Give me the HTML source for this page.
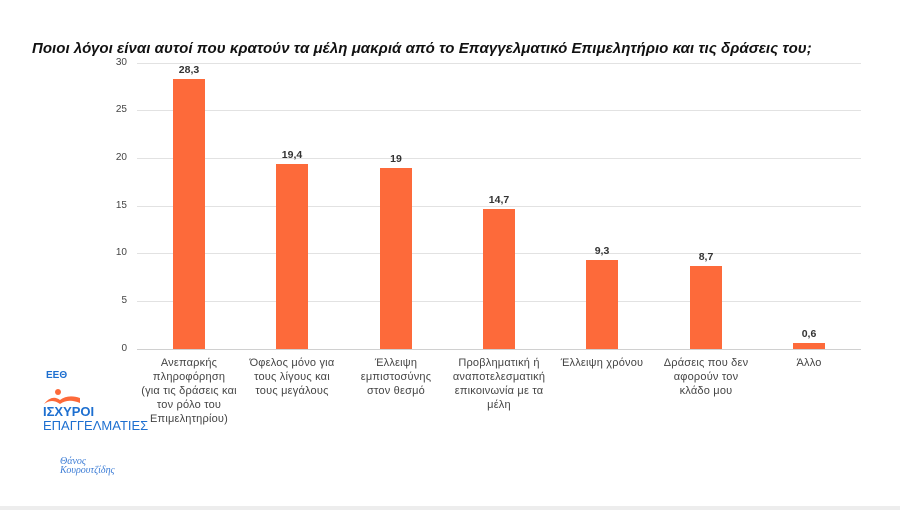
<!DOCTYPE html>
<html><head><meta charset="utf-8"><style>
body{margin:0;width:900px;height:510px;background:#fff;position:relative;overflow:hidden;font-family:"Liberation Sans","DejaVu Sans",sans-serif}
.a{position:absolute}
.g{position:absolute;left:137px;width:724px;height:1px;background:#e2e2e2}
.yl{position:absolute;width:20px;text-align:right;left:107px;font-size:10px;color:#444}
.bar{position:absolute;width:32px;background:#fd6a3a}
.v{position:absolute;width:60px;text-align:center;font-size:10.5px;font-weight:bold;color:#333}
.xl{position:absolute;width:130px;text-align:center;font-size:11px;line-height:14px;color:#444;top:356px;white-space:nowrap;letter-spacing:0.2px}
</style></head><body>
<div class="a" style="left:32px;top:40px;font-size:15px;font-weight:bold;font-style:italic;color:#111;white-space:nowrap;letter-spacing:0.05px">Ποιοι λόγοι είναι αυτοί που κρατούν τα μέλη μακριά από το Επαγγελματικό Επιμελητήριο και τις δράσεις του;</div>
<div class="g" style="top:63px"></div><div class="g" style="top:110px"></div><div class="g" style="top:158px"></div><div class="g" style="top:206px"></div><div class="g" style="top:253px"></div><div class="g" style="top:301px"></div><div class="g" style="top:349px;background:#d0d0d0"></div>
<div class="yl" style="top:57px">30</div><div class="yl" style="top:104px">25</div><div class="yl" style="top:152px">20</div><div class="yl" style="top:200px">15</div><div class="yl" style="top:247px">10</div><div class="yl" style="top:295px">5</div><div class="yl" style="top:343px">0</div>

<div class="bar" style="left:173px;top:79px;height:270px"></div><div class="v" style="left:159px;top:64px">28,3</div>
<div class="bar" style="left:276px;top:164px;height:185px"></div><div class="v" style="left:262px;top:149px">19,4</div>
<div class="bar" style="left:380px;top:168px;height:181px"></div><div class="v" style="left:366px;top:153px">19</div>
<div class="bar" style="left:483px;top:209px;height:140px"></div><div class="v" style="left:469px;top:194px">14,7</div>
<div class="bar" style="left:586px;top:260px;height:89px"></div><div class="v" style="left:572px;top:245px">9,3</div>
<div class="bar" style="left:690px;top:266px;height:83px"></div><div class="v" style="left:676px;top:251px">8,7</div>
<div class="bar" style="left:793px;top:343px;height:6px"></div><div class="v" style="left:779px;top:328px">0,6</div>

<div class="xl" style="left:124px">Ανεπαρκής<br>πληροφόρηση<br>(για τις δράσεις και<br>τον ρόλο του<br>Επιμελητηρίου)</div>
<div class="xl" style="left:227px">Όφελος μόνο για<br>τους λίγους και<br>τους μεγάλους</div>
<div class="xl" style="left:331px">Έλλειψη<br>εμπιστοσύνης<br>στον θεσμό</div>
<div class="xl" style="left:434px">Προβληματική ή<br>αναποτελεσματική<br>επικοινωνία με τα<br>μέλη</div>
<div class="xl" style="left:537px">Έλλειψη χρόνου</div>
<div class="xl" style="left:641px">Δράσεις που δεν<br>αφορούν τον<br>κλάδο μου</div>
<div class="xl" style="left:744px">Άλλο</div>

<div class="a" style="left:46px;top:370px;font-size:10px;font-weight:bold;color:#1d6fd0">ΕΕΘ</div>
<svg class="a" style="left:42px;top:388px" width="40" height="18"><circle cx="16" cy="4" r="3" fill="#fd6a3a"/><path d="M2 16 Q10 6 18 12 Q26 6 38 10 L38 15 Q26 10 18 16 Q10 10 2 16Z" fill="#fd6a3a"/></svg>
<div class="a" style="left:43px;top:405px;font-size:13px;font-weight:bold;color:#1d6fd0;line-height:13px">ΙΣΧΥΡΟΙ</div>
<div class="a" style="left:43px;top:419px;font-size:13px;color:#1d6fd0;line-height:13px">ΕΠΑΓΓΕΛΜΑΤΙΕΣ</div>
<div class="a" style="left:60px;top:457px;font-size:10px;font-style:italic;color:#3a7bd5;line-height:9px;font-family:'Liberation Serif',serif">Θάνος<br>Κουρουτζίδης</div>
<div class="a" style="left:0;top:506px;width:900px;height:4px;background:#ededed"></div>
</body></html>
